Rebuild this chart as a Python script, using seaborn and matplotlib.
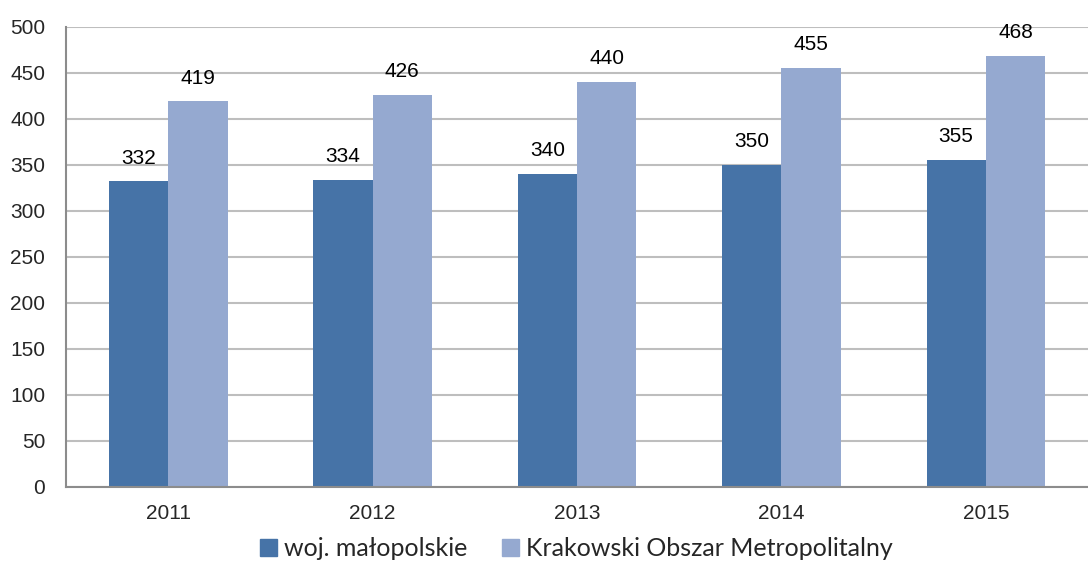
import matplotlib
matplotlib.use("Agg")
import matplotlib.pyplot as plt
import seaborn as sns
import pandas as pd

years = ["2011", "2012", "2013", "2014", "2015"]
malopolskie = [332, 334, 340, 350, 355]
kom = [419, 426, 440, 455, 468]
series_names = ["woj. małopolskie", "Krakowski Obszar Metropolitalny"]

df = pd.DataFrame({
    "rok": years * 2,
    "wartosc": malopolskie + kom,
    "seria": [series_names[0]] * len(years) + [series_names[1]] * len(years),
})

sns.set_style("white")
plt.rcParams['font.family'] = ['Liberation Sans', 'DejaVu Sans']

fig = plt.figure(figsize=(10.88, 5.61), dpi=100)
ax = fig.add_axes([0.0607, 0.132, 0.9393, 0.820])

palette = ["#4673A7", "#95A9D0"]
sns.barplot(data=df, x="rok", y="wartosc", hue="seria", palette=palette,
            width=0.58, saturation=1, linewidth=0, ax=ax, legend=False)

for cont in ax.containers:
    ax.bar_label(cont, padding=10, fontsize=15, color="#000000")

ax.set_ylim(0, 500)
ax.set_xlim(-0.5, 4.5)
ax.set_yticks(range(0, 501, 50))
ax.grid(axis="y", color="#BEBEBE", lw=1.5)
ax.set_axisbelow(True)
ax.set_xlabel("")
ax.set_ylabel("")

for s in ["top", "right"]:
    ax.spines[s].set_visible(False)
for s in ["left", "bottom"]:
    ax.spines[s].set_color("#8C8C8C")
    ax.spines[s].set_linewidth(1.5)

ax.tick_params(axis="x", which="major", length=0, labelsize=15, pad=12)
ax.set_xticks([i - 0.5 for i in range(6)], minor=True)
ax.tick_params(axis="x", which="minor", length=6, width=1.5, color="#8C8C8C", direction="out")
ax.tick_params(axis="y", length=6, width=1.5, color="#8C8C8C", labelsize=15, pad=9)

handles = [plt.Rectangle((0, 0), 1, 1, color=c) for c in palette]
fig.legend(handles, series_names, loc="center", bbox_to_anchor=(0.53, 0.022), ncol=2,
           frameon=False, handlelength=0.65, handleheight=0.65, handletextpad=0.3,
           columnspacing=1.4, prop={"family": ["Lato", "DejaVu Sans"], "size": 18})

fig.savefig("out.png", dpi=100)
